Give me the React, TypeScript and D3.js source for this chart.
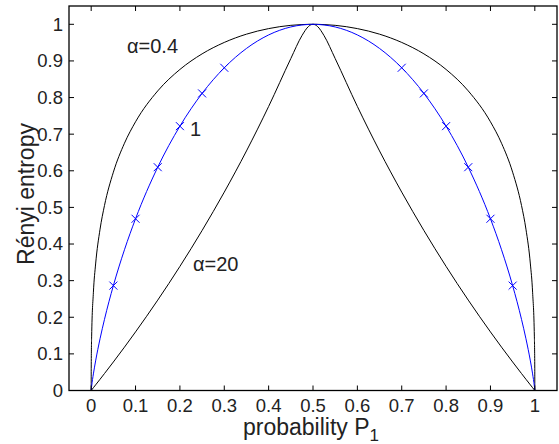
import React from "react";
import * as d3 from "d3";

// probability grid shared by the three curves
const pGrid = [
  0, 0.0001, 0.001, 0.005, 0.01, 0.02, 0.03, 0.05, 0.075, 0.1, 0.15, 0.2, 0.25, 0.3, 0.35, 0.4, 0.45, 0.475, 0.49, 0.495, 0.5,
  0.505, 0.51, 0.525, 0.55, 0.6, 0.65, 0.7, 0.75, 0.8, 0.85, 0.9, 0.925, 0.95, 0.97, 0.98, 0.99, 0.995, 0.999, 0.9999, 1,
];

const alpha04 = [
  0, 0.0595, 0.1464, 0.2684, 0.3455, 0.4406, 0.5053, 0.5962, 0.6752, 0.7338, 0.8181, 0.8767, 0.9193, 0.9505, 0.9731, 0.9883, 0.9972, 0.9993, 0.9999, 1.0, 1.0,
  1.0, 0.9999, 0.9993, 0.9972, 0.9883, 0.9731, 0.9505, 0.9193, 0.8767, 0.8181, 0.7338, 0.6752, 0.5962, 0.5053, 0.4406, 0.3455, 0.2684, 0.1464, 0.0595, 0,
];

const alpha1 = [
  0, 0.0015, 0.0114, 0.0454, 0.0808, 0.1414, 0.1944, 0.2864, 0.3843, 0.469, 0.6098, 0.7219, 0.8113, 0.8813, 0.9341, 0.971, 0.9928, 0.9982, 0.9997, 0.9999, 1.0,
  0.9999, 0.9997, 0.9982, 0.9928, 0.971, 0.9341, 0.8813, 0.8113, 0.7219, 0.6098, 0.469, 0.3843, 0.2864, 0.1944, 0.1414, 0.0808, 0.0454, 0.0114, 0.0015, 0,
];

const alpha20 = [
  0, 0.0002, 0.0015, 0.0076, 0.0153, 0.0307, 0.0463, 0.0779, 0.1184, 0.16, 0.2468, 0.3389, 0.4369, 0.5417, 0.6542, 0.7757, 0.9065, 0.9689, 0.9944, 0.9986, 1.0,
  0.9986, 0.9944, 0.9689, 0.9065, 0.7757, 0.6542, 0.5417, 0.4369, 0.3389, 0.2468, 0.16, 0.1184, 0.0779, 0.0463, 0.0307, 0.0153, 0.0076, 0.0015, 0.0002, 0,
];

// x markers on the alpha = 1 curve
const markP = [0.05, 0.1, 0.15, 0.2, 0.25, 0.3, 0.7, 0.75, 0.8, 0.85, 0.9, 0.95];
const markH = [0.2864, 0.469, 0.6098, 0.7219, 0.8113, 0.8813, 0.8813, 0.8113, 0.7219, 0.6098, 0.469, 0.2864];

const xTicks = [0, 0.1, 0.2, 0.3, 0.4, 0.5, 0.6, 0.7, 0.8, 0.9, 1];
const yTicks = [0, 0.1, 0.2, 0.3, 0.4, 0.5, 0.6, 0.7, 0.8, 0.9, 1];

const W = 559;
const H = 444;
const FONT = "'Liberation Sans', Arial, Helvetica, sans-serif";

export default function App() {
  const left = 69, right = 557, top = 6, bottom = 390.5;
  const x = d3.scaleLinear().domain([-0.05, 1.05]).range([left, right]);
  const y = d3.scaleLinear().domain([0, 1.05]).range([bottom, top]);

  const line = (vals: number[]) =>
    d3.line<number>()
      .x((_, i) => x(pGrid[i]))
      .y((d) => y(d))
      .curve(d3.curveMonotoneX)(vals) || "";

  const tick = 5;
  const ms = 4;

  return (
    <svg width={W} height={H} style={{ position: "absolute", left: 0, top: 0, background: "#fff" }} fontFamily={FONT}>
      <rect width={W} height={H} fill="#fff" />
      <defs>
        <clipPath id="plot">
          <rect x={left} y={top} width={right - left} height={bottom - top} />
        </clipPath>
      </defs>

      <g clipPath="url(#plot)" fill="none">
        <path d={line(alpha04)} stroke="#000" strokeWidth={1} />
        <path d={line(alpha20)} stroke="#000" strokeWidth={1} />
        <path d={line(alpha1)} stroke="#0000ff" strokeWidth={1} />
        {markP.map((p, i) => {
          const cx = x(p), cy = y(markH[i]);
          return (
            <g key={i} stroke="#0000ff" strokeWidth={1}>
              <line x1={cx - ms} y1={cy - ms} x2={cx + ms} y2={cy + ms} />
              <line x1={cx - ms} y1={cy + ms} x2={cx + ms} y2={cy - ms} />
            </g>
          );
        })}
      </g>

      {/* ticks on all four sides, pointing inwards */}
      <g stroke="#000" strokeWidth={1}>
        {xTicks.map((t) => (
          <g key={"x" + t}>
            <line x1={x(t)} x2={x(t)} y1={bottom} y2={bottom - tick} />
            <line x1={x(t)} x2={x(t)} y1={top} y2={top + tick} />
          </g>
        ))}
        {yTicks.map((t) => (
          <g key={"y" + t}>
            <line x1={left} x2={left + tick} y1={y(t)} y2={y(t)} />
            <line x1={right} x2={right - tick} y1={y(t)} y2={y(t)} />
          </g>
        ))}
      </g>
      <rect x={left} y={top} width={right - left} height={bottom - top} fill="none" stroke="#000" strokeWidth={1.3} />

      <g fontSize={18.5} fill="#222">
        {xTicks.map((t) => (
          <text key={"xl" + t} x={x(t)} y={412} textAnchor="middle">{d3.format("")(t)}</text>
        ))}
        {yTicks.map((t) => (
          <text key={"yl" + t} x={63} y={y(t)} dy="0.35em" textAnchor="end">{d3.format("")(t)}</text>
        ))}
      </g>

      <text x={243} y={435} fontSize={23} fill="#222">
        probability P<tspan dy={6} fontSize={17}>1</tspan>
      </text>
      <text transform="translate(34,194) rotate(-90)" textAnchor="middle" fontSize={23} fill="#222">Rényi entropy</text>

      <g fontSize={20} fill="#222">
        <text x={127} y={53}>α=0.4</text>
        <text x={190} y={136}>1</text>
        <text x={193} y={271}>α=20</text>
      </g>
    </svg>
  );
}
